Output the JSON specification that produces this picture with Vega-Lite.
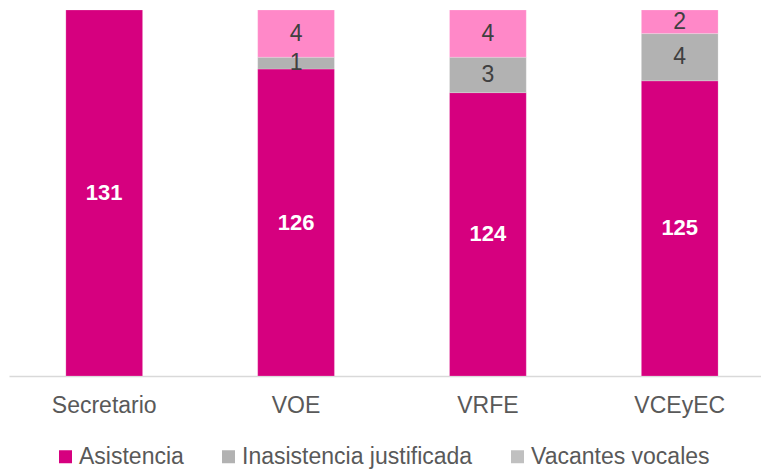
{
  "$schema": "https://vega.github.io/schema/vega-lite/v6.json",
  "autosize": "none",
  "padding": {"left": 9, "top": 10, "right": 0, "bottom": 94},
  "width": 752,
  "height": 366,
  "background": "white",
  "config": {
    "view": {"stroke": null},
    "font": "Liberation Sans",
    "text": {"font": "Liberation Sans"}
  },
  "data": {
    "values": [
      {"cat": "Secretario", "serie": "Asistencia", "value": 131, "order": 1},
      {"cat": "VOE", "serie": "Asistencia", "value": 126, "order": 1},
      {"cat": "VOE", "serie": "Inasistencia justificada", "value": 1, "order": 2},
      {"cat": "VOE", "serie": "Vacantes vocales", "value": 4, "order": 3},
      {"cat": "VRFE", "serie": "Asistencia", "value": 124, "order": 1},
      {"cat": "VRFE", "serie": "Inasistencia justificada", "value": 3, "order": 2},
      {"cat": "VRFE", "serie": "Vacantes vocales", "value": 4, "order": 3},
      {"cat": "VCEyEC", "serie": "Asistencia", "value": 125, "order": 1},
      {"cat": "VCEyEC", "serie": "Inasistencia justificada", "value": 4, "order": 2},
      {"cat": "VCEyEC", "serie": "Vacantes vocales", "value": 2, "order": 3}
    ]
  },
  "transform": [
    {"stack": "value", "groupby": ["cat"], "sort": [{"field": "order", "order": "ascending"}], "as": ["v0", "v1"]},
    {"calculate": "(max(datum.v0, 100) + datum.v1) / 2", "as": "mid"}
  ],
  "encoding": {
    "x": {
      "field": "cat",
      "type": "nominal",
      "sort": ["Secretario", "VOE", "VRFE", "VCEyEC"],
      "title": null,
      "scale": {"paddingInner": 0.6, "paddingOuter": 0.26, "align": 0.57},
      "axis": {
        "labelAngle": 0,
        "labelFontSize": 23,
        "labelColor": "#595959",
        "labelPadding": 18,
        "ticks": false,
        "domainColor": "#D9D9D9",
        "domainWidth": 1.3,
        "grid": false
      }
    }
  },
  "resolve": {"scale": {"color": "independent"}, "legend": {"color": "independent"}},
  "layer": [
    {
      "mark": {"type": "bar", "stroke": "white", "strokeWidth": 0.5, "strokeOpacity": 0.4},
      "encoding": {
        "y": {
          "field": "v1",
          "type": "quantitative",
          "scale": {"domain": [100, 131], "clamp": true, "zero": false, "nice": false},
          "axis": null
        },
        "y2": {"field": "v0"},
        "color": {
          "field": "serie",
          "type": "nominal",
          "scale": {
            "domain": ["Asistencia", "Inasistencia justificada", "Vacantes vocales"],
            "range": ["#D6007F", "#B2B2B2", "#FF88C8"]
          },
          "legend": null
        }
      }
    },
    {
      "transform": [{"filter": "datum.serie === 'Asistencia'"}],
      "mark": {"type": "text", "fontSize": 22, "fontWeight": "bold", "color": "white", "baseline": "middle"},
      "encoding": {
        "y": {"field": "mid", "type": "quantitative"},
        "text": {"field": "value", "type": "quantitative"}
      }
    },
    {
      "transform": [{"filter": "datum.serie !== 'Asistencia'"}],
      "mark": {"type": "text", "fontSize": 23, "color": "#404040", "baseline": "middle"},
      "encoding": {
        "y": {"field": "mid", "type": "quantitative"},
        "text": {"field": "value", "type": "quantitative"}
      }
    },
    {
      "transform": [{"filter": "false"}],
      "mark": {"type": "square"},
      "encoding": {
        "y": {"field": "mid", "type": "quantitative"},
        "color": {
          "field": "serie",
          "type": "nominal",
          "scale": {
            "domain": ["Asistencia", "Inasistencia justificada", "Vacantes vocales"],
            "range": ["#D6007F", "#B2B2B2", "#C0C0C0"]
          },
          "legend": {
            "title": null,
            "orient": "none",
            "direction": "horizontal",
            "legendX": 45,
            "legendY": 435,
            "symbolType": "square",
            "symbolSize": 169,
            "symbolStrokeWidth": 0,
            "symbolOpacity": 1,
            "labelFontSize": 23,
            "labelColor": "#595959",
            "labelOffset": 2,
            "labelLimit": 0,
            "columnPadding": 33
          }
        }
      }
    }
  ]
}
